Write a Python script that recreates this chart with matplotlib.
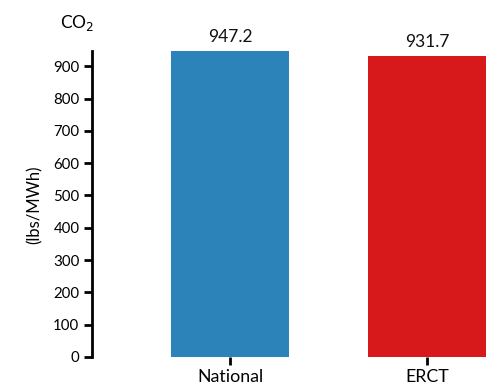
import matplotlib
matplotlib.use("Agg")
import matplotlib.pyplot as plt

categories = ["National", "ERCT"]
values = [947.2, 931.7]
bar_colors = ["#2c83ba", "#d7191c"]
y_ticks = [0, 100, 200, 300, 400, 500, 600, 700, 800, 900]

plt.rcParams['font.family'] = ['Lato', 'DejaVu Sans']

W, H = 501, 390
fig = plt.figure(figsize=(W / 100, H / 100), dpi=100)
# axes box in pixel coords: left spine at x=92, zero at y=357, top at y=51
x0, x1 = 92, 501
y_top, y_bot = 51, 357
ax = fig.add_axes([x0 / W, 1 - y_bot / H, (x1 - x0) / W, (y_bot - y_top) / H])

xpos = list(range(len(categories)))
ax.bar(xpos, values, width=0.6, color=bar_colors)
for x, v in zip(xpos, values):
    ax.text(x, v + 20, f"{v:.1f}", ha="center", va="bottom", fontsize=12.5, color="#111111")

step = 197.0
ax.set_xlim((x0 - 230) / step, (x1 - 230) / step)
ax.set_ylim(0, max(values))
ax.set_yticks(y_ticks)
ax.set_xticks(xpos)
ax.set_xticklabels(categories)

for s in ["top", "right", "bottom"]:
    ax.spines[s].set_visible(False)
ax.spines["left"].set_linewidth(2)
ax.tick_params(axis="y", length=6, width=2, labelsize=10.8, pad=3)
ax.tick_params(axis="x", length=6, width=2, labelsize=12.8, pad=3)

fig.text(35 / W, 1 - 205 / H, "(lbs/MWh)", rotation=90, ha="center", va="center", fontsize=12)
fig.text(77 / W, 1 - 23 / H, "CO$_2$", ha="center", va="center", fontsize=12.5)

fig.savefig("out.png", dpi=100)
